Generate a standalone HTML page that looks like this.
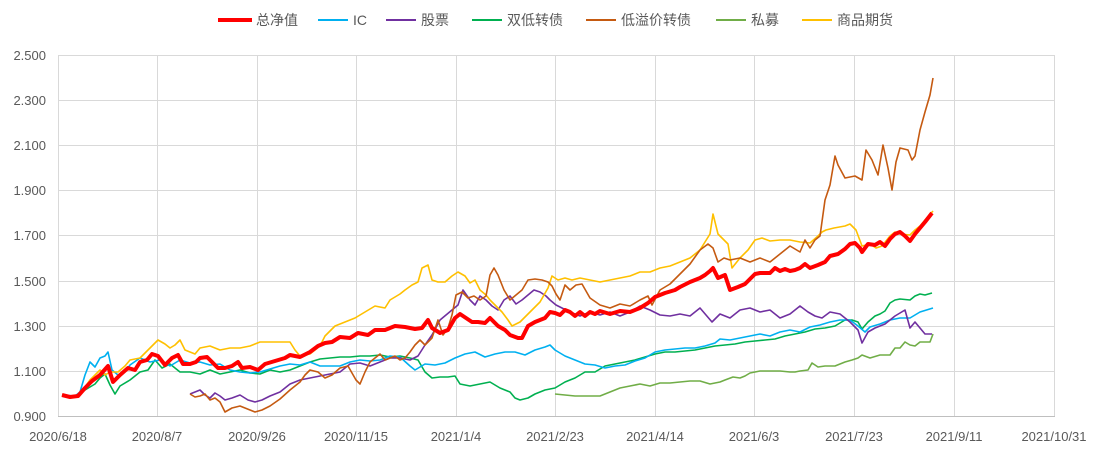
<!DOCTYPE html>
<html><head><meta charset="utf-8"><style>
body{margin:0;background:#fff;}
svg text{font-family:"Liberation Sans","Noto Sans CJK SC",sans-serif;font-size:13px;fill:#595959;}
</style></head><body>
<svg width="1100" height="452" xmlns="http://www.w3.org/2000/svg">
<g stroke="#d9d9d9" stroke-width="1">
<line x1="58" y1="55.5" x2="1055" y2="55.5"/><line x1="58" y1="100.5" x2="1055" y2="100.5"/>
<line x1="58" y1="145.5" x2="1055" y2="145.5"/><line x1="58" y1="190.5" x2="1055" y2="190.5"/>
<line x1="58" y1="235.5" x2="1055" y2="235.5"/><line x1="58" y1="281.5" x2="1055" y2="281.5"/>
<line x1="58" y1="326.5" x2="1055" y2="326.5"/><line x1="58" y1="371.5" x2="1055" y2="371.5"/>
<line x1="157.5" y1="55" x2="157.5" y2="416"/><line x1="257.5" y1="55" x2="257.5" y2="416"/>
<line x1="356.5" y1="55" x2="356.5" y2="416"/><line x1="456.5" y1="55" x2="456.5" y2="416"/>
<line x1="555.5" y1="55" x2="555.5" y2="416"/><line x1="655.5" y1="55" x2="655.5" y2="416"/>
<line x1="754.5" y1="55" x2="754.5" y2="416"/><line x1="854.5" y1="55" x2="854.5" y2="416"/>
<line x1="954.5" y1="55" x2="954.5" y2="416"/><line x1="1054.5" y1="55" x2="1054.5" y2="416"/>
<line x1="58.5" y1="55" x2="58.5" y2="416"/>
</g>
<line x1="58" y1="416.5" x2="1055" y2="416.5" stroke="#bfbfbf"/>
<g text-anchor="end">
<text x="46" y="60">2.500</text><text x="46" y="105">2.300</text><text x="46" y="150">2.100</text>
<text x="46" y="195">1.900</text><text x="46" y="240">1.700</text><text x="46" y="286">1.500</text>
<text x="46" y="331">1.300</text><text x="46" y="376">1.100</text><text x="46" y="421">0.900</text>
</g>
<g text-anchor="middle">
<text x="58" y="441">2020/6/18</text><text x="157" y="441">2020/8/7</text><text x="257" y="441">2020/9/26</text>
<text x="356" y="441">2020/11/15</text><text x="456" y="441">2021/1/4</text><text x="555" y="441">2021/2/23</text>
<text x="655" y="441">2021/4/14</text><text x="754" y="441">2021/6/3</text><text x="854" y="441">2021/7/23</text>
<text x="954" y="441">2021/9/11</text><text x="1054" y="441">2021/10/31</text>
</g>
<g fill="none" stroke-width="1.6" stroke-linejoin="round">
<polyline stroke="#70AD47" points="555,394 565,395 575,396 590,396 600,396 610,392 620,388 630,386 640,384 650,386 660,383 670,383 680,382 690,381 700,381 710,384 720,382 725,380 733,377 740,378 745,376 750,373 760,371 770,371 780,371 790,372 795,372 800,371 808,370 812,363 818,367 825,366 835,366 845,362 852,360 858,358 862,355 870,358 880,355 890,355 895,348 900,348 905,342 910,345 915,346 920,342 925,342 930,342 933,334"/>
<polyline stroke="#00B050" points="62,395 75,397 85,390 95,384 100,378 105,374 110,385 115,394 120,386 130,380 140,372 148,370 155,360 162,368 170,364 180,372 190,372 200,374 210,370 220,374 230,372 240,370 250,373 260,374 270,370 280,372 290,370 300,366 310,362 320,359 330,358 340,357 350,357 360,356 370,356 380,355 390,357 400,356 410,358 418,360 425,372 432,378 440,377 448,377 455,376 460,384 470,386 480,384 490,382 500,388 510,392 515,398 520,400 528,398 535,394 545,390 555,388 565,382 575,378 585,372 595,372 605,366 615,364 625,362 635,360 645,357 655,354 665,352 675,352 685,351 695,350 705,348 715,346 725,345 735,344 745,342 755,341 765,340 775,339 785,336 795,334 805,332 815,329 825,328 835,326 845,320 852,320 858,322 862,329 868,322 875,316 880,314 885,311 890,303 895,300 900,299 910,300 915,296 920,294 925,295 932,293"/>
<polyline stroke="#00B0F0" points="62,395 75,396 80,392 85,375 90,362 95,367 100,358 105,356 108,352 112,370 118,375 125,372 130,365 140,358 150,362 160,360 170,366 180,360 190,363 200,362 210,365 220,364 230,370 240,372 250,373 260,372 270,369 280,366 290,364 300,365 310,362 320,366 330,366 340,366 350,362 360,360 370,361 380,360 390,356 400,357 410,366 415,370 425,364 435,365 445,363 455,358 465,354 475,352 485,357 495,354 505,352 515,352 525,355 535,350 545,347 550,345 555,350 565,356 575,360 585,364 595,365 605,368 615,366 625,365 635,361 645,358 655,352 665,350 675,349 685,348 695,348 705,346 715,343 720,339 730,340 740,338 750,336 760,334 770,336 780,332 790,330 800,332 810,327 820,325 830,322 840,320 850,320 858,326 865,332 870,327 880,324 890,320 900,318 910,318 920,312 933,308"/>
<polyline stroke="#7030A0" points="190,394 195,392 200,390 205,395 210,398 215,393 220,396 225,400 232,398 240,395 248,400 255,402 262,400 270,396 280,392 290,384 300,380 310,378 320,376 330,374 340,372 350,364 360,363 370,366 380,362 390,358 400,358 410,360 418,356 425,345 432,335 440,320 446,315 452,310 458,305 463,290 470,300 475,305 480,296 486,300 492,306 498,310 504,300 510,296 516,304 522,300 528,295 534,290 540,292 546,296 550,300 556,305 562,308 570,312 580,316 590,312 600,315 610,312 620,316 630,312 640,306 650,310 660,315 670,316 680,314 690,316 700,308 712,322 720,314 730,318 740,310 750,308 760,312 770,310 780,318 790,314 800,306 808,312 815,316 822,318 830,312 840,314 850,322 858,330 862,343 868,332 875,328 885,324 890,320 895,316 905,310 910,328 915,322 920,328 925,334 932,334"/>
<polyline stroke="#FFC000" points="62,395 70,396 78,395 85,387 90,380 95,375 100,370 105,375 110,372 118,372 125,366 130,360 140,358 150,348 158,340 165,344 170,348 175,345 180,340 185,350 190,352 195,354 200,348 210,346 220,350 230,348 240,348 250,346 260,342 270,342 280,342 290,342 295,350 300,356 310,354 320,346 325,336 335,326 345,322 355,318 365,312 375,306 385,308 390,300 400,294 405,290 412,285 418,282 422,268 428,265 432,280 438,282 445,282 452,276 458,272 465,276 470,283 475,280 480,290 486,295 490,300 496,306 502,312 508,320 512,326 520,322 530,312 540,302 548,288 552,276 558,280 565,278 572,280 580,278 590,280 600,282 610,280 620,278 630,276 640,272 650,272 660,268 670,266 680,262 690,258 700,250 710,234 713,214 718,234 724,240 728,244 732,268 740,258 748,250 755,240 762,238 770,241 780,240 790,240 800,242 810,243 818,236 822,232 826,230 834,228 845,226 850,224 856,230 862,246 870,244 876,248 882,246 890,236 895,232 900,234 910,235 915,230 920,226 925,220 933,211"/>
<polyline stroke="#C55A11" points="190,394 195,397 200,396 205,394 210,400 215,398 220,402 225,412 232,408 240,406 250,410 255,412 262,410 270,406 280,399 290,390 300,382 305,375 310,370 318,372 325,378 332,375 340,368 348,366 356,380 360,384 365,372 370,362 375,358 380,354 385,360 390,358 395,356 400,360 405,358 410,352 415,345 420,340 425,345 432,338 438,320 443,335 448,328 452,315 456,295 462,292 468,298 474,296 480,300 486,296 490,275 494,268 498,275 504,290 510,300 516,295 522,290 528,280 535,279 542,280 548,282 552,286 556,294 560,300 565,285 570,290 576,285 582,284 590,298 600,305 610,308 620,304 630,306 640,300 648,296 652,305 660,290 670,284 680,274 690,264 700,250 708,244 713,248 718,262 724,258 730,260 740,258 750,262 760,258 770,262 780,254 790,246 800,252 805,240 810,248 815,240 820,236 825,200 830,185 835,156 838,165 845,178 855,176 862,180 866,150 872,160 878,175 883,145 888,168 892,190 896,162 900,148 908,150 912,160 915,156 920,130 925,112 930,95 933,78"/>
<polyline stroke="#FF0000" stroke-width="4" points="62,395 70,397 78,396 85,388 92,381 100,375 108,366 113,382 120,375 128,368 135,370 140,362 147,360 152,354 158,356 165,365 172,358 178,355 183,364 190,364 196,362 200,358 207,357 212,362 218,368 225,368 232,366 238,362 242,368 250,367 258,370 265,364 275,361 285,358 290,355 300,357 310,352 318,346 325,343 332,342 340,337 350,338 358,333 368,335 375,330 385,330 395,326 405,327 415,329 422,328 428,320 432,328 440,333 448,330 455,318 460,314 466,318 472,322 478,322 485,323 490,318 498,326 505,330 510,335 518,338 522,338 528,326 535,322 540,320 545,318 550,312 555,313 560,315 565,310 570,312 575,316 580,312 585,316 590,312 595,314 600,311 610,314 620,311 630,312 640,308 648,303 655,297 665,293 675,290 680,287 690,282 700,278 705,275 710,271 713,268 718,278 725,275 730,290 738,287 745,284 750,279 755,274 760,273 770,273 775,268 780,271 785,269 790,271 795,270 800,268 805,264 810,268 818,265 825,262 830,256 838,254 845,249 850,244 855,243 860,248 862,252 868,244 875,245 880,242 885,246 890,239 895,234 900,232 905,236 910,241 915,234 920,228 925,222 932,213"/>
</g>
<g>
<line x1="218" y1="20" x2="252" y2="20" stroke="#FF0000" stroke-width="4"/><text x="256" y="25" style="font-size:14px">总净值</text>
<line x1="318" y1="20" x2="348" y2="20" stroke="#00B0F0" stroke-width="2"/><text x="353" y="25" style="font-size:14px">IC</text>
<line x1="386" y1="20" x2="416" y2="20" stroke="#7030A0" stroke-width="2"/><text x="421" y="25" style="font-size:14px">股票</text>
<line x1="472" y1="20" x2="502" y2="20" stroke="#00B050" stroke-width="2"/><text x="507" y="25" style="font-size:14px">双低转债</text>
<line x1="586" y1="20" x2="616" y2="20" stroke="#C55A11" stroke-width="2"/><text x="621" y="25" style="font-size:14px">低溢价转债</text>
<line x1="716" y1="20" x2="746" y2="20" stroke="#70AD47" stroke-width="2"/><text x="751" y="25" style="font-size:14px">私募</text>
<line x1="802" y1="20" x2="832" y2="20" stroke="#FFC000" stroke-width="2"/><text x="837" y="25" style="font-size:14px">商品期货</text>
</g>
</svg>
</body></html>
